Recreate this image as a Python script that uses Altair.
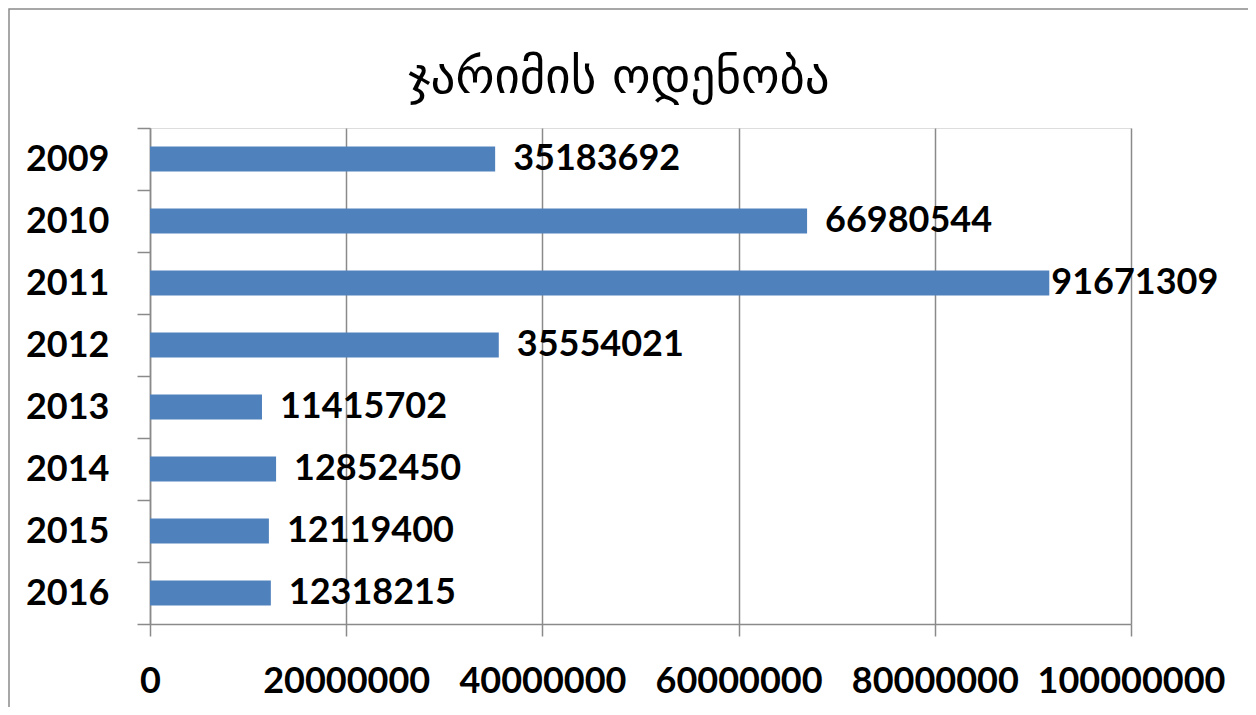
import altair as alt
import pandas as pd

years = ["2009", "2010", "2011", "2012", "2013", "2014", "2015", "2016"]
values = [35183692, 66980544, 91671309, 35554021, 11415702, 12852450, 12119400, 12318215]
x_ticks = [0, 20000000, 40000000, 60000000, 80000000, 100000000]
title_text = "ჯარიმის ოდენობა"

df = pd.DataFrame({"year": years, "value": values})

GRAY = "#8a8a8a"
LABEL_FONT = "Lato"

y_enc = alt.Y(
    "year:N",
    sort=years,
    title=None,
    scale=alt.Scale(paddingInner=0, paddingOuter=0),
    axis=alt.Axis(
        tickBand="extent",
        tickSize=13,
        tickColor=GRAY,
        tickWidth=1.5,
        domainColor=GRAY,
        domainWidth=1.5,
        labelFont=LABEL_FONT,
        labelFontWeight="bold",
        labelFontSize=36,
        labelColor="black",
        labelPadding=28,
        grid=False,
    ),
)
x_enc = alt.X(
    "value:Q",
    title=None,
    scale=alt.Scale(domain=[0, 100000000], nice=False),
    axis=alt.Axis(
        values=x_ticks,
        format="d",
        tickSize=12,
        tickColor=GRAY,
        tickWidth=1.5,
        domainColor=GRAY,
        domainWidth=1.5,
        grid=True,
        gridColor=GRAY,
        gridWidth=1.5,
        labelFont=LABEL_FONT,
        labelFontWeight="bold",
        labelFontSize=36,
        labelColor="black",
        labelPadding=28,
        labelFlush=False,
        labelOverlap=False,
        labelLimit=400,
    ),
)

base = alt.Chart(df)

bars = base.mark_bar(color="#4F81BD", height={"band": 0.4}).encode(x=x_enc, y=y_enc)

text_kw = dict(align="left", baseline="middle", font=LABEL_FONT,
               fontWeight="bold", fontSize=36, color="black")

labels_a = base.transform_filter("datum.value < 90000000").mark_text(
    dx=18, **text_kw
).encode(x="value:Q", y=alt.Y("year:N", sort=years), text=alt.Text("value:Q", format="d"))

labels_b = base.transform_filter("datum.value >= 90000000").mark_text(
    dx=2, **text_kw
).encode(x="value:Q", y=alt.Y("year:N", sort=years), text=alt.Text("value:Q", format="d"))

border = alt.Chart(pd.DataFrame({"a": [0]})).mark_rect(
    fillOpacity=0, stroke=GRAY, strokeWidth=1.5
).encode(
    x=alt.value(-141), x2=alt.value(1400), y=alt.value(-119), y2=alt.value(900)
)

title_mark = alt.Chart(pd.DataFrame({"t": [title_text]})).mark_text(
    font="DejaVu Sans", fontSize=49, fontWeight="normal", color="black",
    align="center", baseline="alphabetic"
).encode(x=alt.value(469), y=alt.value(-35), text="t:N")

chart = alt.layer(border, bars, labels_a, labels_b, title_mark).properties(
    width=981,
    height=496,
    padding={"left": 142, "top": 120, "right": 117, "bottom": 83},
    autosize=alt.AutoSizeParams(type="none"),
).configure_view(strokeOpacity=0).configure(background="white")

chart.save("out.html", embed_options={"renderer": "svg", "actions": False})
